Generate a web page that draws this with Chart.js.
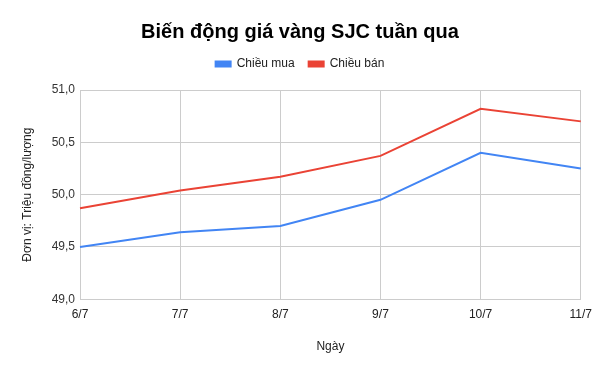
<!DOCTYPE html>
<html>
<head>
<meta charset="utf-8">
<script src="https://cdn.jsdelivr.net/npm/chart.js@4/dist/chart.umd.min.js"></script>
<style>
html,body{margin:0;padding:0;background:#fff;}
#wrap{width:600px;height:371px;}
</style>
</head>
<body>
<div id="wrap"><canvas id="c"></canvas></div>
<script>
const categories = ['6/7', '7/7', '8/7', '9/7', '10/7', '11/7'];
const buyValues = [49.50, 49.64, 49.70, 49.95, 50.40, 50.25];
const sellValues = [49.87, 50.04, 50.17, 50.37, 50.82, 50.70];
const seriesNames = ['Chiều mua', 'Chiều bán'];
const yTicks = [49.0, 49.5, 50.0, 50.5, 51.0];

const FONT = "Arial, 'Liberation Sans', sans-serif";

new Chart(document.getElementById('c'), {
  type: 'line',
  data: {
    labels: categories,
    datasets: [
      { label: seriesNames[0], data: buyValues, borderColor: '#4285f4', backgroundColor: '#4285f4', borderWidth: 2, pointRadius: 0, tension: 0 },
      { label: seriesNames[1], data: sellValues, borderColor: '#ea4335', backgroundColor: '#ea4335', borderWidth: 2, pointRadius: 0, tension: 0 }
    ]
  },
  options: {
    responsive: true,
    maintainAspectRatio: false,
    animation: false,
    devicePixelRatio: 1,
    layout: { padding: { left: 0, right: 0, top: 0, bottom: 17 } },
    plugins: {
      title: {
        display: true,
        text: 'Biến động giá vàng SJC tuần qua',
        color: '#000',
        font: { family: FONT, size: 20, weight: 'bold' },
        padding: { top: 20, bottom: 0 }
      },
      legend: {
        position: 'top',
        labels: {
          color: '#222',
          font: { family: FONT, size: 12 },
          boxWidth: 15,
          boxHeight: 5,
          padding: 14
        }
      },
      tooltip: { enabled: false }
    },
    scales: {
      x: {
        offset: false,
        grid: { color: '#cccccc', lineWidth: 1, drawTicks: false },
        border: { color: '#cccccc' },
        ticks: { color: '#222', font: { family: FONT, size: 12 }, padding: 8, maxRotation: 0, autoSkip: false },
        title: { display: true, text: 'Ngày', color: '#222', font: { family: FONT, size: 12 }, padding: { top: 10, bottom: 0 } }
      },
      xTopSpacer: {
        type: 'category',
        position: 'top',
        display: true,
        grid: { display: false },
        border: { display: false },
        ticks: { display: false },
        afterFit: (axis) => { axis.height = 10; }
      },
      y: {
        min: 49,
        max: 51,
        afterBuildTicks: (axis) => { axis.ticks = yTicks.map(v => ({ value: v })); },
        afterFit: (axis) => { axis.width = 80; },
        grid: { color: '#cccccc', lineWidth: 1, drawTicks: false },
        border: { color: '#cccccc' },
        ticks: {
          color: '#333',
          font: { family: FONT, size: 12 },
          padding: 5,
          callback: (v) => Number(v).toFixed(1).replace('.', ',')
        },
        title: { display: true, text: 'Đơn vị: Triệu đồng/lượng', color: '#222', font: { family: FONT, size: 12 }, padding: { top: 20, bottom: 0 } }
      },
      yRightSpacer: {
        type: 'linear',
        position: 'right',
        display: true,
        grid: { display: false },
        border: { display: false },
        ticks: { display: false },
        afterFit: (axis) => { axis.width = 18; }
      }
    }
  }
});
</script>
</body>
</html>
